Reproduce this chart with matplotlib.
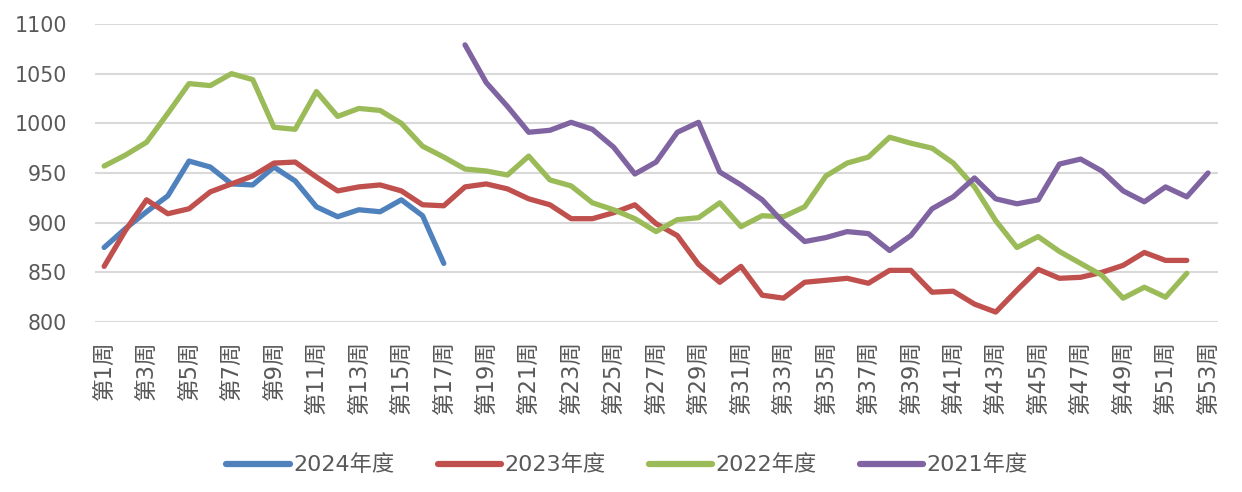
import matplotlib
matplotlib.use("Agg")
import matplotlib.pyplot as plt
import numpy as np

plt.rcParams['font.family'] = ['DejaVu Sans', 'Noto Sans CJK SC']

weeks = list(range(1, 54))
week_labels = [f"第{w}周" for w in weeks]

s2024 = [875, 894, 911, 927, 962, 956, 939, 938, 956, 942, 916, 906, 913, 911, 923, 907, 859]
s2023 = [856, 892, 923, 909, 914, 931, 939, 947, 960, 961, 946, 932, 936, 938, 932, 918, 917,
         936, 939, 934, 924, 918, 904, 904, 910, 918, 899, 887, 858, 840, 856, 827, 824, 840,
         842, 844, 839, 852, 852, 830, 831, 818, 810, 832, 853, 844, 845, 850, 857, 870, 862, 862]
s2022 = [957, 968, 981, 1010, 1040, 1038, 1050, 1044, 996, 994, 1032, 1007, 1015, 1013, 1000,
         977, 966, 954, 952, 948, 967, 943, 937, 920, 913, 904, 891, 903, 905, 920, 896, 907,
         906, 916, 947, 960, 966, 986, 980, 975, 960, 936, 902, 875, 886, 871, 859, 847, 824,
         835, 825, 849]
s2021_start = 18
s2021 = [1079, 1041, 1017, 991, 993, 1001, 994, 976, 949, 961, 991, 1001, 951, 938, 923, 900,
         881, 885, 891, 889, 872, 887, 914, 926, 945, 924, 919, 923, 959, 964, 952, 932, 921,
         936, 926, 950]

series = [
    ("2024年度", weeks[:len(s2024)], s2024, "#4F81BD"),
    ("2023年度", weeks[:len(s2023)], s2023, "#C0504D"),
    ("2022年度", weeks[:len(s2022)], s2022, "#9BBB59"),
    ("2021年度", weeks[s2021_start - 1:s2021_start - 1 + len(s2021)], s2021, "#8064A2"),
]

fig = plt.figure(figsize=(12.42, 4.92), dpi=100)
ax = fig.add_axes([95 / 1242, 1 - 322 / 492, (1218 - 95) / 1242, (322 - 24) / 492])

for name, x, y, c in series:
    ax.plot(x, y, color=c, lw=3.8, label=name, solid_capstyle='round', solid_joinstyle='round')

ax.set_ylim(800, 1100)
ax.set_yticks(np.arange(800, 1101, 50))
ax.set_xlim(0.57, 53.47)
ax.set_xticks(weeks[::2])
ax.set_xticklabels(week_labels[::2], rotation=90, fontsize=16.3, color="#595959")
ax.tick_params(axis='y', labelsize=14.8, labelcolor="#595959", length=0, pad=20)
ax.tick_params(axis='x', length=0, pad=13)
ax.grid(axis='y', color="#D9D9D9", lw=1.5)
ax.set_axisbelow(True)
for s in ax.spines.values():
    s.set_visible(False)

leg = fig.legend(loc='center', bbox_to_anchor=(627 / 1242, 1 - 465 / 492), ncol=4,
                 frameon=False, fontsize=16, handlelength=2.85, columnspacing=1.95,
                 handletextpad=0.15)
for line in leg.get_lines():
    line.set_linewidth(4.5)
    line.set_solid_capstyle('round')
for t in leg.get_texts():
    t.set_color("#595959")

fig.savefig("out.png", dpi=100)
